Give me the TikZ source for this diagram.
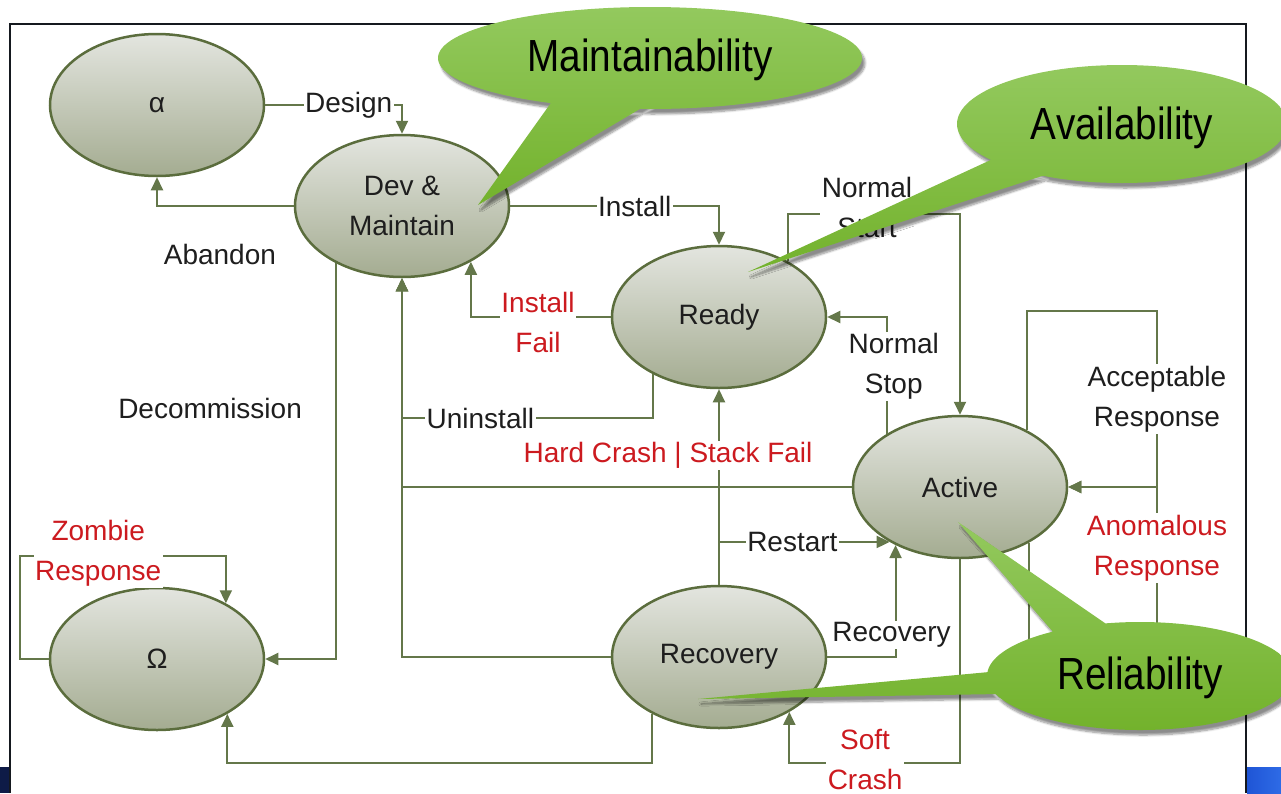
\documentclass[tikz,border=0pt]{standalone}
\usepackage{fontspec}
\setmainfont{Liberation Sans}
\newfontfamily\calloutfont{Liberation Sans}[FakeStretch=0.86]
\usetikzlibrary{arrows.meta,shapes.geometric,shadows.blur}

\definecolor{wire}{HTML}{64774A}
\definecolor{rim}{HTML}{5B6D3D}
\definecolor{stateTop}{HTML}{E3E5DF}
\definecolor{stateBot}{HTML}{A4AC91}
\definecolor{alert}{HTML}{CC1A1F}
\definecolor{ink}{HTML}{1E1E1E}
\definecolor{leafTop}{HTML}{93C95E}
\definecolor{leafBot}{HTML}{73B22C}
\definecolor{frameInk}{HTML}{15191F}
\definecolor{navy}{HTML}{0E1B47}
\definecolor{royal}{HTML}{1F55D6}
\definecolor{royalLight}{HTML}{2E6BE6}

\tikzset{
  state/.style={ellipse, draw=rim, line width=2.5pt, top color=stateTop,
    bottom color=stateBot, minimum width=214pt, minimum height=142pt,
    inner sep=0pt, align=center, text=ink, font=\fontsize{28}{40}\selectfont},
  wire/.style={draw=wire, line width=2pt, -{Triangle[length=13pt,width=12pt]}},
  lbl/.style={fill=white, inner sep=1.5pt, align=center, text=ink,
    font=\fontsize{28}{40}\selectfont},
  rlbl/.style={lbl, text=alert},
  callout/.style={top color=leafTop, bottom color=leafBot,
    blur shadow={shadow xshift=3pt, shadow yshift=-5pt,
      shadow blur steps=8, shadow opacity=45}},
  callouttext/.style={font=\calloutfont\fontsize{45}{50}\selectfont, text=black}
}

\begin{document}
\begin{tikzpicture}[x=1pt,y=-1pt]
\useasboundingbox (0,0) rectangle (1281,793);

% page furniture
\fill[navy] (0,767) rectangle (10,793);
\shade[left color=royal, right color=royalLight] (1247,767) rectangle (1281,793);
\draw[frameInk, line width=2pt] (10,793) -- (10,24) -- (1246,24) -- (1246,793);

% states
\node[state] (alpha)  at (157,105) {α};
\node[state] (dev)    at (402,206) {Dev \&\\Maintain};
\node[state] (ready)  at (719,317) {Ready};
\node[state] (active) at (960,487) {Active};
\node[state] (omega)  at (157,659) {Ω};
\node[state] (recov)  at (719,657) {Recovery};

% rails used by routed connectors
\coordinate (topY)    at (0,214);
\coordinate (uY)      at (0,418);
\coordinate (botY)    at (0,763);
\coordinate (loopTop) at (1157,311);
\coordinate (loopBot) at (1157,680);
\coordinate (zCorner) at (20,556);

% transitions
\draw[wire] (alpha.east) -| node[lbl,pos=0.305]{Design} (dev.north);
\draw[wire] (dev.west) -| node[lbl,fill=none,pos=0.27,yshift=-48pt]{Abandon} (alpha.south);
\draw[wire] (dev.221.7) |- node[lbl,fill=none,pos=0.183,xshift=-126pt]{Decommission} (omega.east);
\draw[wire] (dev.east) -| node[lbl,pos=0.298]{Install} (ready.north);
\draw[wire] (ready.west) -| node[rlbl,pos=0.26,yshift=-5pt]{Install\\Fail} (dev.321.8);
\draw[wire] (ready.221.6) |- node[lbl,pos=0.844]{Uninstall} (dev.south |- uY) -- (dev.south);
\draw[wire] (active.west) -| (dev.south);
\draw[wire] (recov.west) -| (dev.south);
\draw[wire] (recov.north) -- node[rlbl,pos=0.66,xshift=-51pt]{Hard Crash | Stack Fail} (ready.south);
\draw[wire] (recov.north |- active.218) -- node[lbl,pos=0.43]{Restart} (active.218);
\draw[wire] (recov.east) -| node[lbl,pos=0.6,xshift=-4pt]{Recovery} (active.222.3);
\draw[wire] (active.south) |- node[rlbl,pos=0.778,yshift=4pt]{Soft\\Crash} (recov.322.5 |- botY) -- (recov.322.5);
\draw[wire] (recov.220.9) |- (omega.322.5 |- botY) -- (omega.322.5);
\draw[wire] (ready.39.6) |- node[lbl,pos=0.73,yshift=7pt]{Normal\\Start} (active.north |- topY) -- (active.north);
\draw[wire] (active.144.6) |- node[lbl,pos=0.288,xshift=7pt]{Normal\\Stop} (ready.east);
\draw[wire] (active.40.9) |- (loopTop) -- node[lbl,pos=0.5]{Acceptable\\Response} (loopTop |- active.east) -- (active.east);
\draw[wire] (active.321.1) |- (loopBot) -- node[rlbl,pos=0.684]{Anomalous\\Response} (loopBot |- active.east) -- (active.east);
\draw[wire] (omega.west) -| (zCorner) -| node[rlbl,pos=0.19,yshift=3pt]{Zombie\\Response} (omega.39.6);

% quality callouts
\path[callout] (650,58) ellipse [x radius=212pt, y radius=51pt]
  (553,100) -- (478,205) -- (655,100) -- cycle;
\node[callouttext] (mtext) at (650,60) {Maintainability};

\path[callout] (1122,124) ellipse [x radius=165pt, y radius=59pt]
  (995,158) -- (748,272) -- (1045,175) -- cycle;
\node[callouttext] (atext) at (1122,128) {Availability};

\path[callout] (1140,676) ellipse [x radius=153pt, y radius=54pt]
  (1115,630) -- (958,522) -- (1060,640) -- cycle
  (1000,671) -- (698,699) -- (1000,694) -- cycle;
\node[callouttext] (rtext) at (1140,678) {Reliability};
\end{tikzpicture}
\end{document}
